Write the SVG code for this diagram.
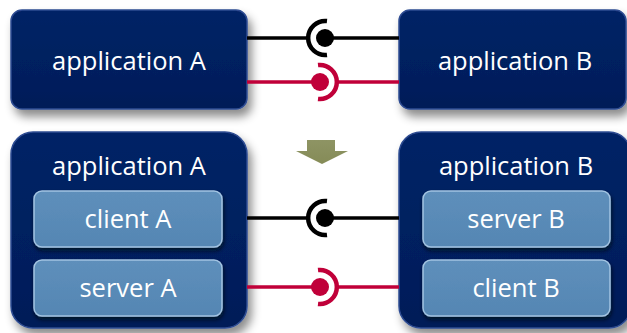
<svg xmlns="http://www.w3.org/2000/svg" width="627" height="333" viewBox="0 0 627 333">
  <defs>
    <filter id="shadow" x="-20%" y="-20%" width="150%" height="160%">
      <feDropShadow dx="4" dy="7" stdDeviation="5" flood-color="#000" flood-opacity="0.45"/>
    </filter>
    <filter id="innerShadow" x="-10%" y="-20%" width="120%" height="150%">
      <feDropShadow dx="1" dy="3" stdDeviation="2" flood-color="#000814" flood-opacity="0.7"/>
    </filter>
    <linearGradient id="navy" x1="0" y1="0" x2="0" y2="1">
      <stop offset="0" stop-color="#062466"/>
      <stop offset="0.5" stop-color="#002060"/>
      <stop offset="1" stop-color="#031d58"/>
    </linearGradient>
    <linearGradient id="steel" x1="0" y1="0" x2="0" y2="1">
      <stop offset="0" stop-color="#5e8fbb"/>
      <stop offset="1" stop-color="#5586b3"/>
    </linearGradient>
    <linearGradient id="olive" x1="0" y1="0" x2="0" y2="1">
      <stop offset="0" stop-color="#8e9464"/>
      <stop offset="1" stop-color="#858b57"/>
    </linearGradient>
  </defs>
  <style>
    .app { fill: url(#navy); stroke: #2d4c92; stroke-width: 1.5; filter: url(#shadow); }
    .part { fill: url(#steel); stroke: #a3c4e2; stroke-width: 1.5; filter: url(#innerShadow); }
    .label { font-family: "Open Sans", "Noto Sans", sans-serif; font-size: 25.5px; fill: #ffffff; text-anchor: middle; }
    .wire { fill: none; stroke-width: 3.5; }
    .black { stroke: #000000; }
    .red { stroke: #c00039; }
    .socket { fill: none; stroke-width: 4.5; }
  </style>
  <rect width="627" height="333" fill="#ffffff"/>

  <!-- top row: applications talking directly -->
  <g id="appA-top">
    <rect class="app" x="11" y="10" width="236" height="99" rx="11"/>
    <text class="label" x="129" y="70">application A</text>
  </g>
  <g id="appB-top">
    <rect class="app" x="399" y="10" width="227" height="99" rx="11"/>
    <text class="label" x="515" y="70">application B</text>
  </g>

  <!-- transition arrow -->
  <g id="arrow">
    <polygon points="307,140 335,140 335,151 348,151 322,164 296,151 307,151" fill="url(#olive)"/>
  </g>

  <!-- bottom row: applications with client/server parts -->
  <g id="appA-bottom">
    <rect class="app" x="11" y="132" width="236" height="196" rx="22"/>
    <text class="label" x="129" y="175">application A</text>
  </g>
  <g id="clientA">
    <rect class="part" x="34" y="191" width="188" height="56" rx="8"/>
    <text class="label" x="128" y="228">client A</text>
  </g>
  <g id="serverA">
    <rect class="part" x="34" y="260" width="188" height="56" rx="8"/>
    <text class="label" x="128" y="297">server A</text>
  </g>
  <g id="appB-bottom">
    <rect class="app" x="399" y="132" width="232" height="196" rx="22"/>
    <text class="label" x="516" y="175">application B</text>
  </g>
  <g id="serverB">
    <rect class="part" x="423" y="191" width="187" height="56" rx="8"/>
    <text class="label" x="516" y="228">server B</text>
  </g>
  <g id="clientB">
    <rect class="part" x="423" y="260" width="187" height="56" rx="8"/>
    <text class="label" x="516" y="297">client B</text>
  </g>

  <!-- connectors: ball-and-socket interfaces -->
  <g id="connectors">
    <!-- top black: socket on A side, ball on B side -->
    <line class="wire black" x1="247" y1="38" x2="308" y2="38"/>
    <path class="socket black" d="M 327 21.1 A 17 17 0 1 0 327 54.9"/>
    <circle cx="325" cy="38" r="9" fill="#000000"/>
    <line class="wire black" x1="325" y1="38" x2="399" y2="38"/>

    <!-- top red: ball on A side, socket on B side -->
    <line class="wire red" x1="247" y1="82" x2="320" y2="82"/>
    <circle cx="320" cy="82" r="9" fill="#c00039"/>
    <path class="socket red" d="M 318 65.1 A 17 17 0 1 1 318 98.9"/>
    <line class="wire red" x1="337" y1="82" x2="399" y2="82"/>

    <!-- bottom black: client A to server B -->
    <line class="wire black" x1="247" y1="218" x2="308" y2="218"/>
    <path class="socket black" d="M 327 201.1 A 17 17 0 1 0 327 234.9"/>
    <circle cx="325" cy="218" r="9" fill="#000000"/>
    <line class="wire black" x1="325" y1="218" x2="399" y2="218"/>

    <!-- bottom red: server A to client B -->
    <line class="wire red" x1="247" y1="287" x2="320" y2="287"/>
    <circle cx="320" cy="287" r="9" fill="#c00039"/>
    <path class="socket red" d="M 318 270.1 A 17 17 0 1 1 318 303.9"/>
    <line class="wire red" x1="337" y1="287" x2="399" y2="287"/>
  </g>
</svg>
